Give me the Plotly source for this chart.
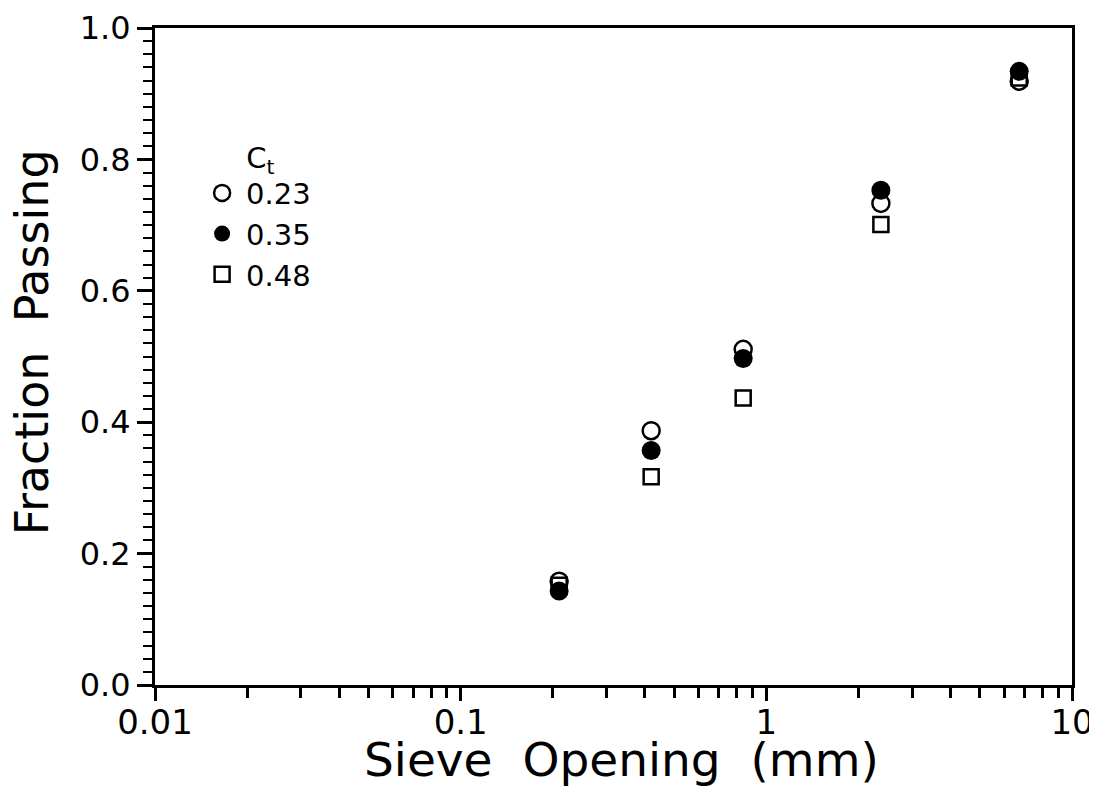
import plotly.graph_objects as go

sieve = [0.21, 0.42, 0.84, 2.37, 6.72]
ct_labels = ["0.23", "0.35", "0.48"]
frac_023 = [0.158, 0.387, 0.511, 0.733, 0.919]
frac_035 = [0.143, 0.357, 0.497, 0.753, 0.934]
frac_048 = [0.152, 0.317, 0.437, 0.701, 0.924]

x_tickvals = [0.01, 0.1, 1, 10]
x_ticktext = ["0.01", "0.1", "1", "10"]
y_tickvals = [0.0, 0.2, 0.4, 0.6, 0.8, 1.0]

font = "DejaVu Sans"

fig = go.Figure()
fig.add_trace(go.Scatter(x=sieve, y=frac_023, mode="markers", name=ct_labels[0],
                         marker=dict(symbol="circle-open", size=17, color="black",
                                     line=dict(width=2.5, color="black"))))
fig.add_trace(go.Scatter(x=sieve, y=frac_035, mode="markers", name=ct_labels[1],
                         marker=dict(symbol="circle", size=19, color="black")))
fig.add_trace(go.Scatter(x=sieve, y=frac_048, mode="markers", name=ct_labels[2],
                         marker=dict(symbol="square-open", size=15, color="black",
                                     line=dict(width=2.5, color="black"))))

fig.update_layout(
    width=1089, height=779,
    paper_bgcolor="white", plot_bgcolor="white",
    margin=dict(l=147, r=25, t=20, b=102, autoexpand=False),
    font=dict(family=font, size=32, color="black"),
    showlegend=True,
    legend=dict(x=0.047, y=0.845, xanchor="left", yanchor="top",
                bgcolor="rgba(0,0,0,0)", borderwidth=0,
                title=dict(text="\u00a0\u00a0\u00a0\u00a0\u00a0C<sub>t</sub>", font=dict(size=29)),
                font=dict(size=29), itemwidth=38, tracegroupgap=0),
    xaxis=dict(type="log", range=[-2, 1], tickvals=x_tickvals, ticktext=x_ticktext,
               ticks="outside", ticklen=13, tickwidth=2.5, tickcolor="black",
               showline=True, linewidth=3, linecolor="black", mirror=True,
               showgrid=False, zeroline=False, automargin=False,
               tickfont=dict(size=34), ticklabelstandoff=-8,
               minor=dict(ticks="outside", ticklen=10, tickwidth=2.5, tickcolor="black",
                          dtick="D1", showgrid=False)),
    yaxis=dict(range=[0, 1], tickvals=y_tickvals, tickformat=".1f",
               ticksuffix="\u00a0",
               ticks="outside", ticklen=15, tickwidth=2.5, tickcolor="black",
               showline=True, linewidth=3, linecolor="black", mirror=True,
               showgrid=False, zeroline=False, automargin=False,
               tickfont=dict(size=32),
               minor=dict(ticks="outside", ticklen=9, tickwidth=2, tickcolor="black",
                          dtick=0.02, showgrid=False)),
    annotations=[
        dict(text="Sieve  Opening  (mm)", xref="paper", yref="paper",
             x=0.509, y=-0.114, xanchor="center", yanchor="middle",
             showarrow=False, font=dict(size=47)),
        dict(text="Fraction  Passing", xref="paper", yref="paper",
             x=-0.134, y=0.522, xanchor="center", yanchor="middle",
             textangle=-90, showarrow=False, font=dict(size=46)),
    ],
)

fig.write_html("out.html")
